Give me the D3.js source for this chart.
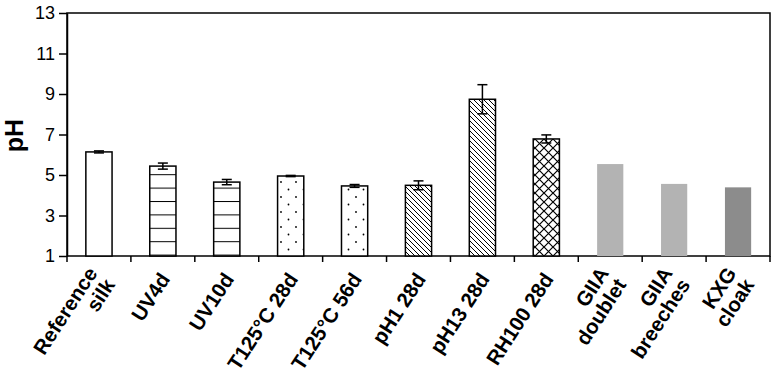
<!DOCTYPE html>
<html>
<head>
<meta charset="utf-8">
<script src="https://cdn.jsdelivr.net/npm/d3@7"></script>
<style>
  body { margin: 0; background: #fff; }
  svg text { font-family: "Liberation Sans", Arial, sans-serif; }
</style>
</head>
<body>
<div id="chart"></div>
<script>
// Data
const categories = ["Reference silk", "UV4d", "UV10d", "T125°C 28d", "T125°C 56d",
    "pH1 28d", "pH13 28d", "RH100 28d", "GIIA doublet", "GIIA breeches", "KXG cloak"];
const labelLines = [["Reference", "silk"], ["UV4d"], ["UV10d"], ["T125°C 28d"], ["T125°C 56d"],
    ["pH1 28d"], ["pH13 28d"], ["RH100 28d"], ["GIIA", "doublet"], ["GIIA", "breeches"], ["KXG", "cloak"]];
const phValues = [6.14, 5.44, 4.65, 4.95, 4.46, 4.49, 8.74, 6.78, 5.54, 4.56, 4.39];
const phErrors = [0.05, 0.15, 0.13, 0.03, 0.07, 0.22, 0.72, 0.2, null, null, null];
const fillKinds = ["white", "hlines", "hlines", "dots", "dots", "diag", "diag", "cross", "light", "light", "dark"];
const yTicks = [1, 3, 5, 7, 9, 11, 13];

const width = 773, height = 380;
const margin = { top: 13, right: 3, bottom: 124, left: 67 };
const innerW = width - margin.left - margin.right;
const innerH = height - margin.top - margin.bottom;

const svg = d3.select("#chart").append("svg")
    .attr("width", width)
    .attr("height", height);

// patterns
const defs = svg.append("defs");
const hl = defs.append("pattern").attr("id", "hlines")
    .attr("patternUnits", "userSpaceOnUse").attr("width", 10).attr("height", 13.4)
    .attr("y", margin.top + innerH - 1);
hl.append("rect").attr("width", 10).attr("height", 13.4).attr("fill", "#fff");
hl.append("line").attr("x1", 0).attr("x2", 10).attr("y1", 0.5).attr("y2", 0.5)
    .attr("stroke", "#000").attr("stroke-width", 1);

const dt = defs.append("pattern").attr("id", "dots")
    .attr("patternUnits", "userSpaceOnUse").attr("width", 15).attr("height", 15);
dt.append("rect").attr("width", 15).attr("height", 15).attr("fill", "#fff");
dt.append("circle").attr("cx", 4).attr("cy", 4).attr("r", 0.9).attr("fill", "#000");
dt.append("circle").attr("cx", 11.5).attr("cy", 11.5).attr("r", 0.9).attr("fill", "#000");

const dg = defs.append("pattern").attr("id", "diag")
    .attr("patternUnits", "userSpaceOnUse").attr("width", 5).attr("height", 5);
dg.append("rect").attr("width", 5).attr("height", 5).attr("fill", "#fff");
dg.append("path").attr("d", "M0,0L5,5M-1,4L1,6M4,-1L6,1")
    .attr("stroke", "#000").attr("stroke-width", 1);

const cr = defs.append("pattern").attr("id", "cross")
    .attr("patternUnits", "userSpaceOnUse").attr("width", 9).attr("height", 9);
cr.append("rect").attr("width", 9).attr("height", 9).attr("fill", "#fff");
cr.append("path").attr("d", "M0,0L9,9M9,0L0,9")
    .attr("stroke", "#000").attr("stroke-width", 1.2);

const fillFor = k => ({
    white: "#fff", hlines: "url(#hlines)", dots: "url(#dots)", diag: "url(#diag)",
    cross: "url(#cross)", light: "#b3b3b3", dark: "#8c8c8c"
})[k];

const g = svg.append("g")
    .attr("transform", `translate(${margin.left},${margin.top})`);

const x = d3.scaleBand().domain(categories).range([0, innerW]).paddingInner(0.59).paddingOuter(0.295);
const xEdges = d3.scaleBand().domain(categories).range([0, innerW]);
const y = d3.scaleLinear().domain([1, 13]).range([innerH, 0]);

// frame
g.append("rect").attr("width", innerW).attr("height", innerH)
    .attr("fill", "none").attr("stroke", "#000").attr("stroke-width", 1.5);

// bars
const data = categories.map((c, i) => ({ c, v: phValues[i], e: phErrors[i], k: fillKinds[i] }));
g.selectAll(".bar")
    .data(data)
    .enter().append("rect")
    .attr("class", "bar")
    .attr("x", d => x(d.c))
    .attr("y", d => y(d.v))
    .attr("width", x.bandwidth())
    .attr("height", d => innerH - y(d.v))
    .attr("fill", d => fillFor(d.k))
    .attr("stroke", d => (d.k === "light" || d.k === "dark") ? "none" : "#000")
    .attr("stroke-width", 1.5);

// error bars
const eb = g.selectAll(".err").data(data.filter(d => d.e != null)).enter()
    .append("g").attr("class", "err")
    .attr("stroke", "#000").attr("stroke-width", 1.5);
const cx = d => x(d.c) + x.bandwidth() / 2;
eb.append("line").attr("x1", cx).attr("x2", cx)
    .attr("y1", d => y(d.v + d.e)).attr("y2", d => y(d.v - d.e));
eb.append("line").attr("x1", d => cx(d) - 5).attr("x2", d => cx(d) + 5)
    .attr("y1", d => y(d.v + d.e)).attr("y2", d => y(d.v + d.e));
eb.append("line").attr("x1", d => cx(d) - 5).attr("x2", d => cx(d) + 5)
    .attr("y1", d => y(d.v - d.e)).attr("y2", d => y(d.v - d.e));

// y axis
const yAxis = d3.axisLeft(y).tickValues(yTicks).tickSize(8).tickSizeOuter(0).tickPadding(4);
g.append("g").attr("class", "y-axis").call(yAxis)
    .call(a => a.select(".domain").attr("stroke-width", 1.5))
    .call(a => a.selectAll(".tick line").attr("stroke-width", 1.5))
    .call(a => a.selectAll("text").attr("font-size", 18).attr("fill", "#000")
        .attr("font-family", "'Liberation Sans', Arial, sans-serif"));

// x tick marks at band edges
const edgePos = categories.map(c => xEdges(c)).concat([innerW]);
g.selectAll(".xtick").data(edgePos).enter().append("line")
    .attr("x1", d => d).attr("x2", d => d)
    .attr("y1", innerH).attr("y2", innerH + 6)
    .attr("stroke", "#000").attr("stroke-width", 1.5);

// x labels
const lh = 21;
const lab = g.selectAll(".xlab").data(labelLines).enter().append("text")
    .attr("class", "xlab")
    .attr("transform", (d, i) => `translate(${xEdges(categories[i]) + xEdges.bandwidth() / 2 + 2},${innerH + 19}) rotate(-57)`)
    .attr("text-anchor", "end")
    .attr("font-size", 20.5)
    .attr("font-weight", "bold");
lab.each(function (lines) {
    const t = d3.select(this);
    lines.forEach((s, j) => {
        t.append("tspan").attr("x", 0)
            .attr("y", (j - (lines.length - 1) / 2) * lh)
            .attr("dy", "0.35em")
            .text(s);
    });
});

// y title
svg.append("text")
    .attr("transform", `translate(23,${margin.top + innerH / 2 + 1}) rotate(-90)`)
    .attr("text-anchor", "middle")
    .attr("font-size", 25)
    .attr("font-weight", "bold")
    .text("pH");
</script>
</body>
</html>
